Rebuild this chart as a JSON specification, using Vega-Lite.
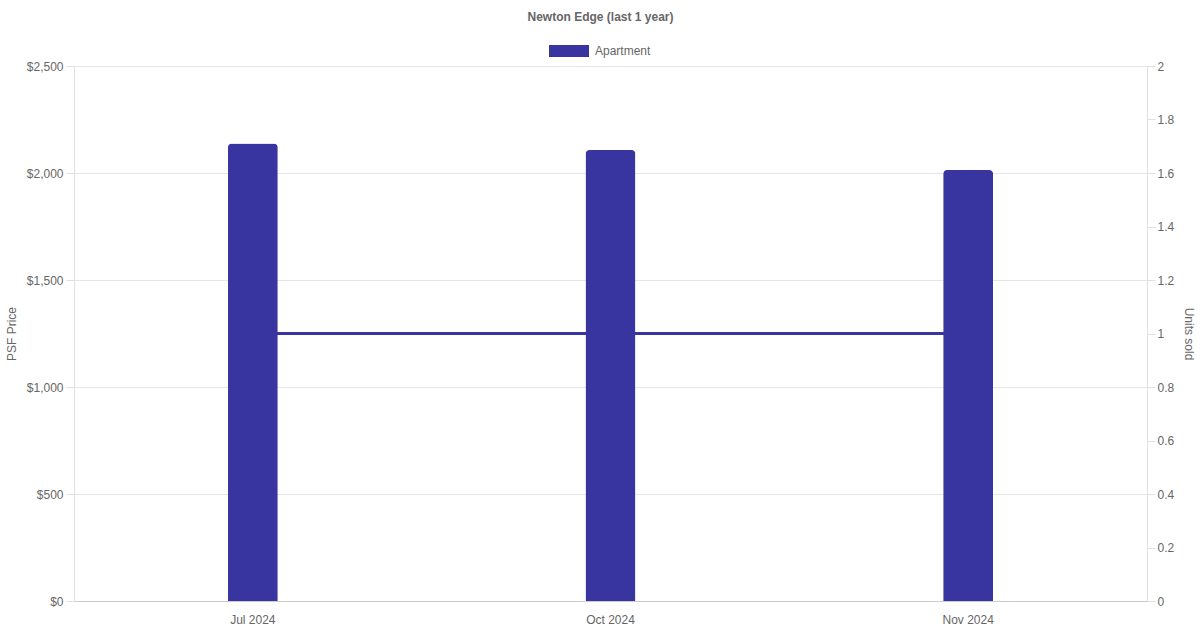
{
  "$schema": "https://vega.github.io/schema/vega-lite/v6.json",
  "width": 1073,
  "height": 535,
  "autosize": {"type": "none"},
  "padding": {"left": 74, "top": 66, "right": 53, "bottom": 29},
  "background": "white",
  "title": {
    "text": "Newton Edge (last 1 year)",
    "font": "Liberation Sans",
    "fontSize": 12,
    "fontWeight": "bold",
    "color": "#666666",
    "anchor": "middle",
    "dx": -10,
    "offset": 7
  },
  "config": {
    "view": {"stroke": null},
    "font": "Liberation Sans",
    "axis": {
      "labelFont": "Liberation Sans",
      "titleFont": "Liberation Sans",
      "labelFontSize": 12,
      "titleFontSize": 12,
      "labelColor": "#666666",
      "titleColor": "#666666",
      "titleFontWeight": "normal"
    }
  },
  "data": {
    "values": [
      {"month": "Jul 2024", "psf": 2138, "units": 1, "type": "Apartment"},
      {"month": "Oct 2024", "psf": 2107, "units": 1, "type": "Apartment"},
      {"month": "Nov 2024", "psf": 2014, "units": 1, "type": "Apartment"}
    ]
  },
  "encoding": {
    "x": {
      "field": "month",
      "type": "ordinal",
      "sort": null,
      "scale": {"paddingInner": 0, "paddingOuter": 0},
      "axis": {
        "title": null,
        "labelAngle": 0,
        "ticks": false,
        "labelPadding": 13,
        "domainColor": "#cccccc",
        "grid": false
      }
    }
  },
  "layer": [
    {
      "mark": {"type": "line", "color": "#3935a0", "strokeWidth": 3},
      "encoding": {
        "y": {
          "field": "units",
          "type": "quantitative",
          "scale": {"domain": [0, 2]},
          "axis": {
            "orient": "right",
            "title": "Units sold",
            "values": [0, 0.2, 0.4, 0.6, 0.8, 1, 1.2, 1.4, 1.6, 1.8, 2],
            "format": "~g",
            "grid": false,
            "tickSize": 8,
            "tickColor": "#e0e0e0",
            "domainColor": "#e0e0e0",
            "labelPadding": 2,
            "titlePadding": 8
          }
        }
      }
    },
    {
      "mark": {"type": "bar", "size": 50, "cornerRadiusTopLeft": 4, "cornerRadiusTopRight": 4},
      "encoding": {
        "y": {
          "field": "psf",
          "type": "quantitative",
          "scale": {"domain": [0, 2500]},
          "axis": {
            "orient": "left",
            "title": "PSF Price",
            "values": [0, 500, 1000, 1500, 2000, 2500],
            "format": "$,.0f",
            "grid": true,
            "gridColor": "#e6e6e6",
            "tickSize": 8,
            "tickColor": "#e0e0e0",
            "domainColor": "#e0e0e0",
            "labelPadding": 3,
            "titlePadding": 8
          }
        },
        "color": {
          "field": "type",
          "type": "nominal",
          "scale": {"range": ["#3935a0"]},
          "legend": {
            "orient": "none",
            "legendX": 475,
            "legendY": -35,
            "title": null,
            "symbolType": "M-1,-0.3H1V0.3H-1Z",
            "symbolSize": 1600,
            "symbolStrokeWidth": 0,
            "labelFontSize": 12,
            "labelColor": "#666666",
            "labelFont": "Liberation Sans",
            "labelOffset": 6
          }
        }
      }
    }
  ],
  "resolve": {"scale": {"y": "independent"}}
}
